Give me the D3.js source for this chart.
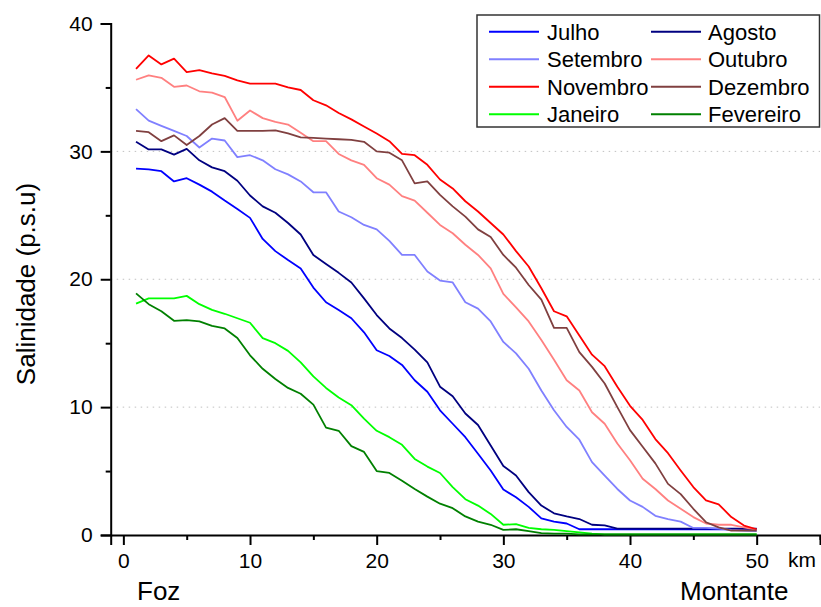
<!DOCTYPE html>
<html><head><meta charset="utf-8">
<script src="https://cdn.jsdelivr.net/npm/d3@7"></script>
<style>body{margin:0;background:#fff}svg{display:block;font-family:"Liberation Sans",Arial,sans-serif}</style>
</head><body><svg id="c" width="821" height="607"></svg>
<script>
const km = [1,2,3,4,5,6,7,8,9,10,11,12,13,14,15,16,17,18,19,20,21,22,23,24,25,26,27,28,29,30,31,32,33,34,35,36,37,38,39,40,41,42,43,44,45,46,47,48,49,50];
const julho = [28.65,28.6,28.45,27.65,27.9,27.4,26.85,26.15,25.5,24.8,23.15,22.2,21.5,20.85,19.35,18.2,17.6,16.95,15.85,14.45,14.0,13.3,12.1,11.2,9.75,8.7,7.65,6.35,5.05,3.55,2.95,2.2,1.3,1.05,0.9,0.45,0.45,0.45,0.45,0.45,0.45,0.45,0.45,0.45,0.45,0.45,0.45,0.45,0.45,0.45];
const agosto = [30.75,30.15,30.15,29.75,30.2,29.3,28.75,28.45,27.7,26.55,25.7,25.2,24.4,23.5,21.9,21.2,20.5,19.75,18.5,17.2,16.15,15.4,14.5,13.5,11.6,10.85,9.5,8.6,7.0,5.4,4.65,3.35,2.3,1.7,1.45,1.25,0.8,0.75,0.5,0.5,0.5,0.5,0.5,0.5,0.5,0.5,0.5,0.5,0.5,0.5];
const setembro = [33.3,32.4,32.0,31.6,31.2,30.3,31.0,30.85,29.55,29.7,29.3,28.6,28.2,27.65,26.8,26.8,25.3,24.85,24.25,23.9,23.0,21.9,21.9,20.6,19.9,19.75,18.2,17.7,16.7,15.1,14.2,13.0,11.3,9.75,8.45,7.45,5.7,4.65,3.6,2.7,2.2,1.5,1.25,1.05,0.55,0.55,0.5,0.4,0.35,0.3];
const outubro = [35.6,35.95,35.75,35.05,35.15,34.7,34.6,34.25,32.4,33.2,32.6,32.3,32.1,31.45,30.8,30.8,29.8,29.3,28.95,27.9,27.4,26.5,26.15,25.2,24.25,23.6,22.7,21.9,20.85,18.85,17.8,16.7,15.25,13.7,12.1,11.3,9.6,8.7,7.15,5.85,4.4,3.6,2.7,2.05,1.4,0.9,0.8,0.8,0.6,0.4];
const novembro = [36.45,37.5,36.8,37.25,36.2,36.35,36.1,35.9,35.55,35.3,35.3,35.3,35.0,34.8,34.0,33.6,33.0,32.5,31.95,31.4,30.8,29.8,29.7,28.95,27.8,27.1,26.1,25.3,24.4,23.5,22.2,21.0,19.3,17.5,17.1,15.6,14.1,13.2,11.6,10.1,9.0,7.5,6.4,5.05,3.75,2.7,2.4,1.4,0.74,0.45];
const dezembro = [31.6,31.5,30.8,31.25,30.5,31.2,32.1,32.6,31.6,31.6,31.6,31.65,31.4,31.1,31.05,31.0,30.95,30.9,30.75,30.0,29.9,29.3,27.5,27.65,26.6,25.7,24.9,23.9,23.3,21.9,20.9,19.55,18.4,16.2,16.2,14.3,13.15,11.85,10.0,8.2,6.9,5.6,4.0,3.2,2.05,1.0,0.6,0.35,0.35,0.35];
const janeiro = [18.1,18.5,18.5,18.5,18.7,18.05,17.6,17.3,16.95,16.6,15.4,15.0,14.4,13.5,12.4,11.5,10.75,10.15,9.1,8.15,7.65,7.05,5.95,5.35,4.85,3.75,2.8,2.3,1.65,0.8,0.85,0.55,0.45,0.4,0.3,0.2,0.1,0.05,0.05,0.05,0.05,0.05,0.05,0.05,0.05,0.05,0.05,0.05,0.05,0.05];
const fevereiro = [18.9,18.05,17.5,16.75,16.8,16.7,16.35,16.15,15.4,14.05,13.0,12.2,11.5,11.05,10.2,8.4,8.15,6.95,6.5,5.0,4.85,4.25,3.6,3.0,2.45,2.1,1.45,1.05,0.8,0.4,0.45,0.3,0.15,0.1,0.1,0.05,0.05,0.05,0.05,0.05,0.05,0.05,0.05,0.05,0.05,0.05,0.05,0.05,0.05,0.05];
const seriesNames = ["Julho","Agosto","Setembro","Outubro","Novembro","Dezembro","Janeiro","Fevereiro"];
const seriesValues = [julho,agosto,setembro,outubro,novembro,dezembro,janeiro,fevereiro];
const seriesColors = ["#0000ff","#000080","#8080ff","#ff8080","#ff0000","#804040","#00ff00","#008000"];
const xTicks = [0,10,20,30,40,50];
const xMinor = [5,15,25,35,45,55];
const yTicks = [0,10,20,30,40];
const yMinor = [5,15,25,35];
const gridVals = [10,20,30];

const svg = d3.select("#c");
const x = d3.scaleLinear().domain([-1,55]).range([110.7,820]);
const y = d3.scaleLinear().domain([0,40]).range([535,23.5]);

// grid
svg.append("g").selectAll("line").data(gridVals).join("line")
  .attr("x1",x(-1)).attr("x2",x(55)).attr("y1",d=>y(d)).attr("y2",d=>y(d))
  .attr("stroke","#c0c0c0").attr("stroke-width",1).attr("stroke-dasharray","1.5,4.5");

// axes
svg.append("g").attr("transform",`translate(0,${y(0)})`)
  .call(d3.axisBottom(x).tickValues(xTicks).tickSize(10).tickPadding(8).tickFormat(d3.format("d")));
svg.append("g").attr("transform",`translate(0,${y(0)})`)
  .call(d3.axisBottom(x).tickValues(xMinor).tickSize(5).tickFormat(""))
  .call(g=>g.select(".domain").remove());
svg.append("g").attr("transform",`translate(${x(-1)},0)`)
  .call(d3.axisLeft(y).tickValues(yTicks).tickSize(10).tickPadding(8).tickFormat(d3.format("d")));
svg.append("g").attr("transform",`translate(${x(-1)},0)`)
  .call(d3.axisLeft(y).tickValues(yMinor).tickSize(5).tickFormat(""))
  .call(g=>g.select(".domain").remove());
svg.selectAll(".domain").attr("stroke","#000").attr("stroke-width",2);
svg.selectAll(".tick line").attr("stroke","#000").attr("stroke-width",2);
svg.selectAll(".tick text").attr("font-size",21).attr("fill","#000").attr("font-family","Liberation Sans, Arial, sans-serif");

// lines
const line = d3.line().x((d,i)=>x(km[i])).y(d=>y(d));
svg.append("g").selectAll("path").data(seriesValues).join("path")
  .attr("d",d=>line(d)).attr("fill","none")
  .attr("stroke",(d,i)=>seriesColors[i]).attr("stroke-width",1.8).attr("stroke-linejoin","round");

// labels
svg.append("text").attr("x",28).attr("y",284).attr("transform","rotate(-90,28,284)")
  .attr("text-anchor","middle").attr("dominant-baseline","middle").attr("font-size",26).text("Salinidade (p.s.u)");
svg.append("text").attr("x",788).attr("y",567).attr("font-size",21).text("km");
svg.append("text").attr("x",137).attr("y",600).attr("font-size",26).text("Foz");
svg.append("text").attr("x",680).attr("y",600).attr("font-size",26).text("Montante");

// legend
const leg = svg.append("g");
leg.append("rect").attr("x",477).attr("y",15).attr("width",342.5).attr("height",112)
  .attr("fill","#fff").attr("stroke","#333").attr("stroke-width",1.5);
const rowY = [31.7,59.2,86.7,114.2];
const items = leg.selectAll("g.it").data(seriesNames).join("g").attr("class","it")
  .attr("transform",(d,i)=>`translate(${i%2===0?489:651},${rowY[Math.floor(i/2)]})`);
items.append("line").attr("x1",0).attr("x2",50).attr("y1",0).attr("y2",0)
  .attr("stroke",(d,i)=>seriesColors[i]).attr("stroke-width",2);
items.append("text").attr("x",(d,i)=>i%2===0?58:57).attr("y",0).attr("dy","0.36em")
  .attr("font-size",22).text(d=>d);
</script></body></html>
